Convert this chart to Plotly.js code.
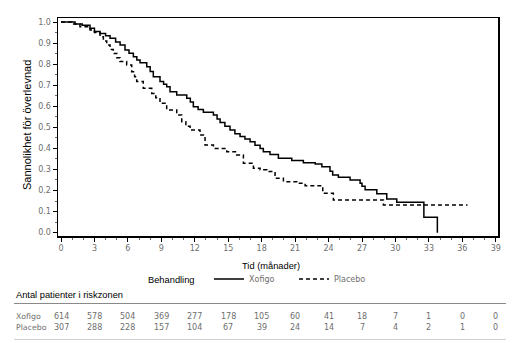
<!DOCTYPE html>
<html>
<head>
<meta charset="utf-8">
<script src="https://cdn.plot.ly/plotly-3.0.1.min.js"></script>
<style>html,body{margin:0;padding:0;background:#fff;}#chart{width:524px;height:357px;}</style>
</head>
<body>
<div id="chart"></div>
<script>
// Kaplan-Meier step data (time in months, survival probability after each step)
const xofigoTime = [0,1.26,1.9,2.6,3.0,3.5,4.0,4.4,4.9,5.3,5.74,6.1,6.49,6.8,7.09,7.69,8.0,8.28,8.88,9.2,9.48,9.78,10.38,11.28,11.6,11.87,12.3,12.77,13.67,14.0,14.27,14.7,15.16,15.6,16.06,16.5,16.96,17.4,17.86,18.15,18.75,19.5,20.7,21.74,22.8,23.4,24.13,24.37,24.88,25.93,26.83,27.0,27.28,28.33,29.22,30.12,32.55,33.76];
const xofigoSurv = [1.0,0.99,0.985,0.97,0.955,0.946,0.935,0.923,0.905,0.891,0.867,0.852,0.835,0.82,0.806,0.788,0.765,0.74,0.717,0.705,0.693,0.669,0.653,0.638,0.62,0.598,0.585,0.572,0.559,0.54,0.523,0.505,0.487,0.47,0.456,0.445,0.432,0.415,0.40,0.384,0.371,0.353,0.343,0.332,0.326,0.313,0.292,0.274,0.263,0.25,0.234,0.22,0.203,0.184,0.16,0.144,0.073,0.0];
const placeboTime = [0,0.96,1.7,2.6,3.0,3.5,3.8,4.1,4.4,4.69,5.0,5.29,5.89,6.34,6.6,6.79,7.38,8.14,8.5,8.88,9.48,10.38,10.83,11.2,11.58,12.47,12.92,13.67,14.87,15.76,16.36,17.26,17.86,18.46,19.2,19.95,21.15,21.9,23.48,24.43,28.92,36.46];
const placeboSurv = [1.0,0.99,0.978,0.962,0.95,0.93,0.91,0.891,0.87,0.851,0.83,0.812,0.796,0.764,0.74,0.717,0.685,0.661,0.64,0.614,0.582,0.559,0.527,0.505,0.487,0.464,0.416,0.40,0.384,0.369,0.329,0.306,0.298,0.29,0.258,0.242,0.234,0.223,0.187,0.155,0.131,0.131];

// Numbers at risk
const riskTimes = [0,3,6,9,12,15,18,21,24,27,30,33,36,39];
const xofigoRisk = [614,578,504,369,277,178,105,60,41,18,7,1,0,0];
const placeboRisk = [307,288,228,157,104,67,39,24,14,7,4,2,1,0];
const groupNames = ['Xofigo','Placebo'];

const W = 524, H = 357;
const M = {l:58, r:26, t:18, b:121};
const plotH = H - M.t - M.b;
const plotW = W - M.l - M.r;
const py = p => (H - M.b - p) / plotH;   // pixel y -> paper y
const px = p => (p - M.l) / plotW;       // pixel x -> paper x

const sans = 'Liberation Sans, Arial, sans-serif';
const small = 'DejaVu Sans, sans-serif';
const gray = '#6e6e6e';

const traces = [
  {x: xofigoTime, y: xofigoSurv, name: groupNames[0], mode: 'lines', line: {shape: 'hv', color: '#000', width: 1.5}},
  {x: placeboTime, y: placeboSurv, name: groupNames[1], mode: 'lines', line: {shape: 'hv', color: '#000', width: 1.5, dash: '4px,3px'}}
];

const annotations = [
  {xref: 'paper', yref: 'paper', x: px(271), y: py(266), xanchor: 'center', yanchor: 'middle', showarrow: false,
   text: 'Tid (månader)', font: {family: sans, size: 9.3, color: '#000'}},
  {xref: 'paper', yref: 'paper', x: px(27), y: py(125), xanchor: 'center', yanchor: 'middle', showarrow: false, textangle: -90,
   text: 'Sannolikhet för överlevnad', font: {family: sans, size: 11, color: '#000'}},
  {xref: 'paper', yref: 'paper', x: px(146), y: py(280), xanchor: 'left', yanchor: 'middle', showarrow: false,
   text: 'Behandling', font: {family: sans, size: 9.3, color: '#000'}},
  {xref: 'paper', yref: 'paper', x: px(14), y: py(295), xanchor: 'left', yanchor: 'middle', showarrow: false,
   text: 'Antal patienter i riskzonen', font: {family: sans, size: 9.3, color: '#000'}}
];
const rows = [xofigoRisk, placeboRisk];
const rowY = [316, 327.7];
rows.forEach((vals, r) => {
  annotations.push({xref: 'paper', yref: 'paper', x: px(14), y: py(rowY[r]), xanchor: 'left', yanchor: 'middle',
    showarrow: false, text: groupNames[r], font: {family: small, size: 7.8, color: gray}});
  vals.forEach((v, i) => {
    annotations.push({xref: 'x', yref: 'paper', x: riskTimes[i], y: py(rowY[r]), xanchor: 'center', yanchor: 'middle',
      showarrow: false, text: String(v), font: {family: small, size: 8, color: gray}});
  });
});

const shapes = [
  {type: 'line', xref: 'paper', yref: 'paper', x0: px(14), x1: px(506), y0: py(303.5), y1: py(303.5), line: {color: '#8a8a8a', width: 1}},
  {type: 'line', xref: 'paper', yref: 'paper', x0: px(14), x1: px(506), y0: py(339.5), y1: py(339.5), line: {color: '#cfcfcf', width: 1}}
];

const layout = {
  width: W, height: H,
  margin: M,
  paper_bgcolor: '#fff', plot_bgcolor: '#fff',
  showlegend: true,
  legend: {orientation: 'h', x: px(209), y: py(279), xanchor: 'left', yanchor: 'middle',
    font: {family: small, size: 8, color: gray}, itemwidth: 30, entrywidth: 40, tracegroupgap: 0, bgcolor: 'rgba(0,0,0,0)'},
  xaxis: {range: [-0.27, 39.2], tickvals: riskTimes, ticktext: riskTimes.map(String),
    ticks: 'outside', ticklen: 4, tickcolor: '#000', tickwidth: 1,
    minor: {dtick: 1, ticks: 'outside', ticklen: 2, tickcolor: '#666'},
    showline: true, linecolor: '#000', linewidth: 1.5, mirror: true, showgrid: false, zeroline: false,
    tickfont: {family: small, size: 8, color: gray}},
  yaxis: {range: [-0.016, 1.019], tickvals: [0,0.1,0.2,0.3,0.4,0.5,0.6,0.7,0.8,0.9,1.0], tickformat: '.1f',
    ticks: 'outside', ticklen: 4, tickcolor: '#000', tickwidth: 1,
    minor: {dtick: 0.05, ticks: 'outside', ticklen: 2, tickcolor: '#666'},
    showline: true, linecolor: '#000', linewidth: 1.5, mirror: true, showgrid: false, zeroline: false,
    tickfont: {family: small, size: 8, color: gray}},
  annotations: annotations,
  shapes: shapes
};

Plotly.newPlot('chart', traces, layout, {displayModeBar: false, staticPlot: true});
</script>
</body>
</html>
